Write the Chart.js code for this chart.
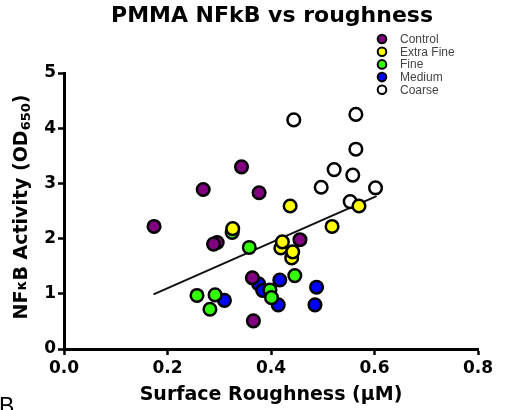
<!DOCTYPE html>
<html lang="en">
<head>
    <meta charset="UTF-8">
    <script src="https://cdn.jsdelivr.net/npm/chart.js"></script>
    <title>PMMA NFkB vs roughness</title>
    <style>
    body {
        margin: 0;
        background-color: white;
    }
    #wrap {
        width: 505px;
        height: 410px;
    }
</style>
</head>
<body>
    <div id="wrap"><canvas id="roughChart" width="505" height="410"></canvas></div>

    <script>
        // Data
        const seriesNames = ['Control', 'Extra Fine', 'Fine', 'Medium', 'Coarse'];
        const seriesColors = ['#800080', '#ffff00', '#33ff00', '#0000ff', '#ffffff'];

        const controlX = [0.174, 0.269, 0.343, 0.377, 0.296, 0.289, 0.456, 0.364, 0.366];
        const controlY = [2.22, 2.89, 3.30, 2.83, 1.93, 1.90, 1.98, 1.29, 0.51];
        const extraFineX = [0.326, 0.419, 0.422, 0.440, 0.442, 0.437, 0.518, 0.570];
        const extraFineY = [2.18, 1.83, 1.94, 1.65, 1.76, 2.59, 2.22, 2.59];
        const fineX = [0.325, 0.358, 0.257, 0.292, 0.282, 0.398, 0.401, 0.446];
        const fineY = [2.11, 1.84, 0.97, 0.98, 0.72, 1.07, 0.93, 1.33];
        const mediumX = [0.310, 0.376, 0.384, 0.417, 0.414, 0.488, 0.485];
        const mediumY = [0.88, 1.18, 1.06, 1.25, 0.80, 1.12, 0.80];
        const coarseX = [0.444, 0.564, 0.564, 0.522, 0.558, 0.497, 0.602, 0.553];
        const coarseY = [4.15, 4.25, 3.62, 3.25, 3.15, 2.93, 2.92, 2.67];
        // linear fit end points
        const fitX = [0.173, 0.604];
        const fitY = [0.99, 2.77];

        const xTicks = [0, 0.2, 0.4, 0.6, 0.8];
        const yTicks = [0, 1, 2, 3, 4, 5];

        function toPoints(xs, ys) {
            return xs.map((x, i) => ({ x: x, y: ys[i] }));
        }

        const allX = [controlX, extraFineX, fineX, mediumX, coarseX];
        const allY = [controlY, extraFineY, fineY, mediumY, coarseY];

        const datasets = seriesNames.map((name, i) => ({
            type: 'scatter',
            label: name,
            data: toPoints(allX[i], allY[i]),
            backgroundColor: seriesColors[i],
            borderColor: '#000',
            borderWidth: 2.5,
            pointRadius: 6.3,
            order: i
        }));
        datasets.push({
            type: 'line',
            label: 'fit',
            data: toPoints(fitX, fitY),
            borderColor: '#111',
            borderWidth: 2,
            pointRadius: 0,
            fill: false,
            order: 10
        });

        const boldFont = "'DejaVu Sans', sans-serif";

        // title, legend, y title with subscript, panel letter
        const extras = {
            id: 'extras',
            afterDraw(chart) {
                const ctx = chart.ctx;
                ctx.save();
                // title, centred over the plot like the original
                ctx.fillStyle = '#000';
                ctx.font = "bold 22px " + boldFont;
                ctx.textAlign = 'center';
                ctx.textBaseline = 'alphabetic';
                ctx.fillText('PMMA NFkB vs roughness', 272, 22);

                // legend
                const legY = [39, 51.7, 64.4, 77.1, 89.8];
                seriesNames.forEach((name, i) => {
                    ctx.beginPath();
                    ctx.arc(382, legY[i], 4.3, 0, Math.PI * 2);
                    ctx.fillStyle = seriesColors[i];
                    ctx.fill();
                    ctx.lineWidth = 2;
                    ctx.strokeStyle = '#000';
                    ctx.stroke();
                    ctx.fillStyle = '#444';
                    ctx.font = "12px 'Liberation Sans', Arial, sans-serif";
                    ctx.textBaseline = 'middle';
                    ctx.textAlign = 'left';
                    ctx.fillText(name, 400, legY[i] + 0.5);
                });

                // y axis title
                ctx.translate(22, 207);
                ctx.rotate(-Math.PI / 2);
                ctx.fillStyle = '#000';
                ctx.textBaseline = 'middle';
                const big = "bold 19px " + boldFont;
                const small = "bold 13px " + boldFont;
                const kap = "bold 14px " + boldFont;
                const parts = [['NF', big, 0], ['\u03ba', kap, 0], ['B Activity (OD', big, 0], ['650', small, 5], [')', big, 0]];
                let total = 0;
                parts.forEach(p => { ctx.font = p[1]; total += ctx.measureText(p[0]).width; });
                let x = -total / 2;
                parts.forEach(p => {
                    ctx.font = p[1];
                    ctx.textAlign = 'left';
                    ctx.fillText(p[0], x, p[2]);
                    x += ctx.measureText(p[0]).width;
                });
                ctx.restore();

                ctx.save();
                ctx.fillStyle = '#000';
                ctx.font = "23px 'Liberation Sans', Arial, sans-serif";
                ctx.textBaseline = 'alphabetic';
                ctx.fillText('B', -1, 414);
                ctx.restore();
            }
        };

        Chart.defaults.color = '#000';

        const roughChart = new Chart(document.getElementById('roughChart'), {
            type: 'scatter',
            data: { datasets: datasets },
            options: {
                responsive: false,
                animation: false,
                layout: {
                    padding: { left: 0, right: 27, top: 73, bottom: 4 }
                },
                plugins: {
                    legend: { display: false },
                    tooltip: { enabled: false },
                    title: { display: false }
                },
                scales: {
                    x: {
                        type: 'linear',
                        min: 0,
                        max: 0.8,
                        afterBuildTicks: axis => { axis.ticks = xTicks.map(v => ({ value: v })); },
                        afterFit: axis => { axis.height = 57; },
                        grid: { drawOnChartArea: false, drawTicks: true, tickLength: 6, tickWidth: 2.5, tickColor: '#000' },
                        border: { display: true, color: '#000', width: 3 },
                        ticks: {
                            padding: 3,
                            color: '#000',
                            font: { family: boldFont, size: 17, weight: 'bold' },
                            callback: v => v.toFixed(1)
                        },
                        title: {
                            display: true,
                            text: 'Surface Roughness (\u03bcM)',
                            color: '#000',
                            font: { family: boldFont, size: 19, weight: 'bold' },
                            padding: { top: 0, bottom: 0 }
                        }
                    },
                    y: {
                        type: 'linear',
                        min: 0,
                        max: 5,
                        afterBuildTicks: axis => { axis.ticks = yTicks.map(v => ({ value: v })); },
                        afterFit: axis => { axis.width = 64; },
                        grid: { drawOnChartArea: false, drawTicks: true, tickLength: 6, tickWidth: 2.5, tickColor: '#000' },
                        border: { display: true, color: '#000', width: 3 },
                        ticks: {
                            padding: 2,
                            color: '#000',
                            font: { family: boldFont, size: 17, weight: 'bold' }
                        }
                    }
                }
            },
            plugins: [extras]
        });
    </script>
</body>
</html>
